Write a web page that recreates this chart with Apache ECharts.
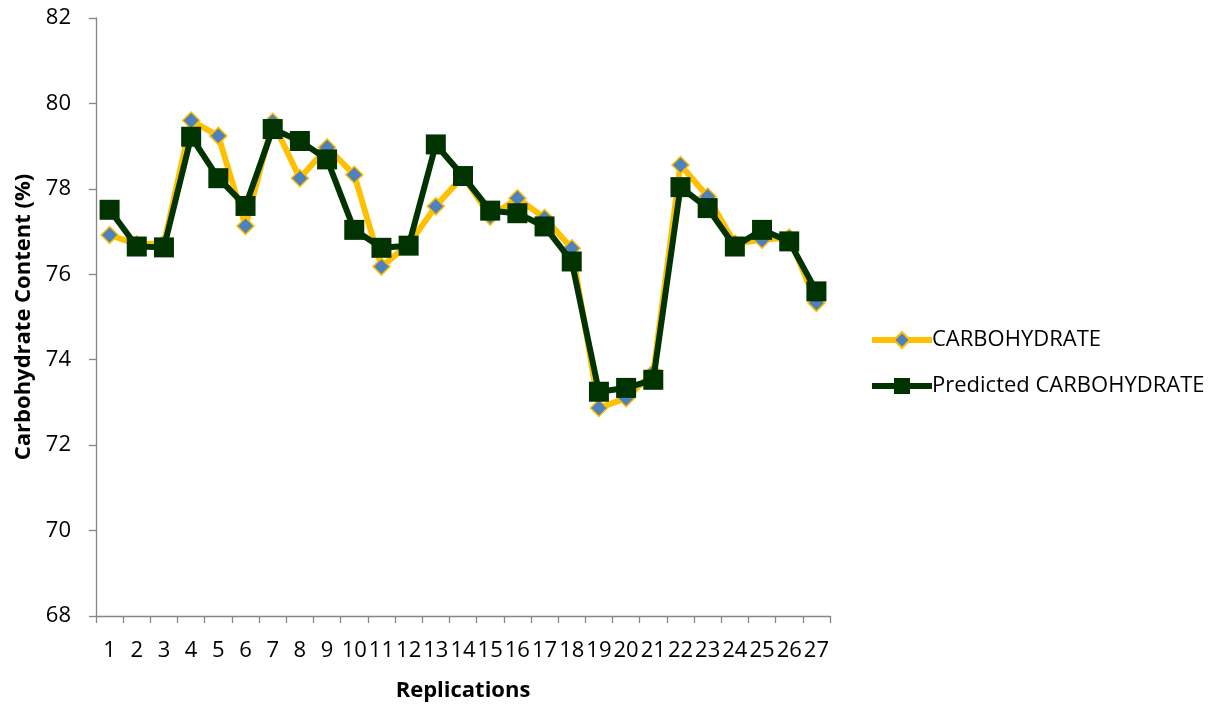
<!DOCTYPE html>
<html>
<head>
<meta charset="utf-8">
<script src="https://cdn.jsdelivr.net/npm/echarts@6/dist/echarts.min.js"></script>
<style>
  html, body { margin: 0; padding: 0; background: #ffffff; }
  #chart { width: 1229px; height: 707px; }
</style>
</head>
<body>
<div id="chart"></div>
<script>
// Replication numbers on the x axis
const replications = ['1','2','3','4','5','6','7','8','9','10','11','12','13','14','15','16','17','18','19','20','21','22','23','24','25','26','27'];

// Measured carbohydrate content (%)
const carbohydrate = [76.92, 76.70, 76.72, 79.60, 79.24, 77.13, 79.57, 78.25, 78.97, 78.33, 76.18, 76.70, 77.59, 78.30, 77.35, 77.78, 77.32, 76.61, 72.87, 73.10, 73.70, 78.56, 77.82, 76.72, 76.81, 76.86, 75.33];

// Model-predicted carbohydrate content (%)
const predicted = [77.51, 76.65, 76.63, 79.22, 78.25, 77.60, 79.40, 79.12, 78.69, 77.04, 76.62, 76.67, 79.04, 78.30, 77.49, 77.43, 77.12, 76.30, 73.25, 73.34, 73.53, 78.04, 77.55, 76.65, 77.04, 76.77, 75.60];

// Value axis range and step
const yMin = 68, yMax = 82, yStep = 2;

const FONT = 'Open Sans';
const YELLOW = '#FFC000';
const GREEN = '#003300';
const chart = echarts.init(document.getElementById('chart'), null, { renderer: 'canvas' });

chart.setOption({
  animation: false,
  backgroundColor: '#ffffff',
  textStyle: { fontFamily: FONT },
  grid: { left: 96, right: 399, top: 18, bottom: 91, containLabel: false, outerBoundsMode: 'none' },
  legend: {
    orient: 'vertical',
    left: 864,
    top: 324,
    itemWidth: 60,
    itemHeight: 20,
    itemGap: 24,
    textStyle: { fontFamily: FONT, fontSize: 22, color: '#000000', padding: [0, 0, 0, -5] },
    data: [
      { name: 'CARBOHYDRATE', lineStyle: { color: YELLOW, width: 6 } },
      { name: 'Predicted CARBOHYDRATE', lineStyle: { color: GREEN, width: 6 } }
    ]
  },
  xAxis: {
    type: 'category',
    data: replications,
    boundaryGap: true,
    name: 'Replications',
    nameLocation: 'middle',
    nameGap: 64,
    nameTextStyle: { fontFamily: FONT, fontSize: 22, fontWeight: 'bold', color: '#000000' },
    axisLine: { lineStyle: { color: '#868686', width: 1.3 } },
    axisTick: { show: true, alignWithLabel: false, length: 7, lineStyle: { color: '#868686', width: 1.3 } },
    axisLabel: { interval: 0, fontFamily: FONT, fontSize: 22, color: '#000000', margin: 24 },
    splitLine: { show: false }
  },
  yAxis: {
    type: 'value',
    min: yMin,
    max: yMax,
    interval: yStep,
    name: 'Carbohydrate Content (%)',
    nameLocation: 'middle',
    nameGap: 60,
    nameRotate: 90,
    nameTextStyle: { fontFamily: FONT, fontSize: 22, fontWeight: 'bold', color: '#000000' },
    axisLine: { show: true, lineStyle: { color: '#868686', width: 1.3 } },
    axisTick: { show: true, inside: false, length: 7, lineStyle: { color: '#868686', width: 1.3 } },
    axisLabel: { fontFamily: FONT, fontSize: 22, color: '#000000', margin: 25 },
    splitLine: { show: false }
  },
  series: [
    {
      name: 'CARBOHYDRATE',
      type: 'line',
      data: carbohydrate,
      symbol: 'diamond',
      symbolSize: 17,
      lineStyle: { color: YELLOW, width: 6 },
      itemStyle: { color: '#4F81BD', borderColor: YELLOW, borderWidth: 1.5 },
      z: 2
    },
    {
      name: 'Predicted CARBOHYDRATE',
      type: 'line',
      data: predicted,
      symbol: 'rect',
      symbolSize: 20,
      lineStyle: { color: GREEN, width: 6 },
      itemStyle: { color: GREEN, borderColor: GREEN, borderWidth: 0 },
      z: 3
    }
  ]
});
</script>
</body>
</html>
